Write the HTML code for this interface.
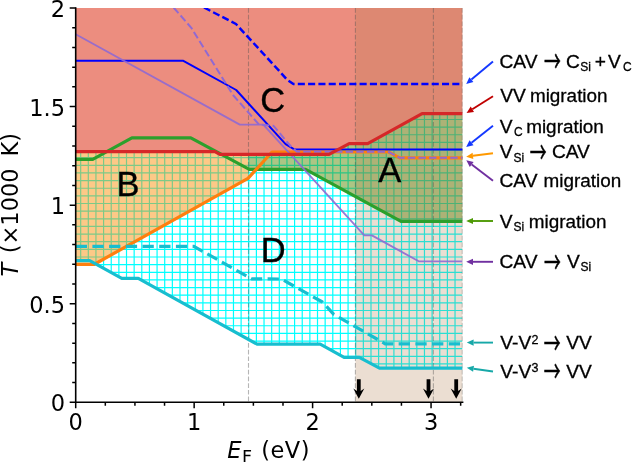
<!DOCTYPE html>
<html><head><meta charset="utf-8"><title>Phase diagram</title>
<style>html,body{margin:0;padding:0;background:#fff}svg{display:block}</style></head>
<body>
<svg width="633" height="462" viewBox="0 0 633 462">
<defs>
<clipPath id="cp"><rect x="75.7" y="8.0" width="386.90000000000003" height="394.3"/></clipPath>
</defs>
<rect width="633" height="462" fill="#fff"/>
<g clip-path="url(#cp)">
<clipPath id="hc"><polygon points="75.7,151.6 214.9,151.6 219.9,154.4 329.0,154.4 349.2,143.6 367.7,143.6 422.1,113.6 462.6,113.6 462.6,368.2 379.5,368.2 359.3,357.3 344.1,357.3 320.2,344.2 257.1,344.2 138.3,278.4 121.8,278.4 89.7,260.7 75.7,260.7"/></clipPath>
<g clip-path="url(#hc)"><path d="M80.67 8.0V402.3M88.31 8.0V402.3M95.95 8.0V402.3M103.59 8.0V402.3M111.23 8.0V402.3M118.87 8.0V402.3M126.51 8.0V402.3M134.15 8.0V402.3M141.79 8.0V402.3M149.43 8.0V402.3M157.07 8.0V402.3M164.71 8.0V402.3M172.35 8.0V402.3M179.99 8.0V402.3M187.63 8.0V402.3M195.27 8.0V402.3M202.91 8.0V402.3M210.55 8.0V402.3M218.19 8.0V402.3M225.83 8.0V402.3M233.47 8.0V402.3M241.11 8.0V402.3M248.75 8.0V402.3M256.39 8.0V402.3M264.03 8.0V402.3M271.67 8.0V402.3M279.31 8.0V402.3M286.95 8.0V402.3M294.59 8.0V402.3M302.23 8.0V402.3M309.87 8.0V402.3M317.51 8.0V402.3M325.15 8.0V402.3M332.79 8.0V402.3M340.43 8.0V402.3M348.07 8.0V402.3M355.71 8.0V402.3M363.35 8.0V402.3M370.99 8.0V402.3M378.63 8.0V402.3M386.27 8.0V402.3M393.91 8.0V402.3M401.55 8.0V402.3M409.19 8.0V402.3M416.83 8.0V402.3M424.47 8.0V402.3M432.11 8.0V402.3M439.75 8.0V402.3M447.39 8.0V402.3M455.03 8.0V402.3M75.7 12.52H462.6M75.7 20.16H462.6M75.7 27.8H462.6M75.7 35.44H462.6M75.7 43.08H462.6M75.7 50.72H462.6M75.7 58.36H462.6M75.7 66.0H462.6M75.7 73.64H462.6M75.7 81.28H462.6M75.7 88.92H462.6M75.7 96.56H462.6M75.7 104.2H462.6M75.7 111.84H462.6M75.7 119.48H462.6M75.7 127.12H462.6M75.7 134.76H462.6M75.7 142.4H462.6M75.7 150.04H462.6M75.7 157.68H462.6M75.7 165.32H462.6M75.7 172.96H462.6M75.7 180.6H462.6M75.7 188.24H462.6M75.7 195.88H462.6M75.7 203.52H462.6M75.7 211.16H462.6M75.7 218.8H462.6M75.7 226.44H462.6M75.7 234.08H462.6M75.7 241.72H462.6M75.7 249.36H462.6M75.7 257.0H462.6M75.7 264.64H462.6M75.7 272.28H462.6M75.7 279.92H462.6M75.7 287.56H462.6M75.7 295.2H462.6M75.7 302.84H462.6M75.7 310.48H462.6M75.7 318.12H462.6M75.7 325.76H462.6M75.7 333.4H462.6M75.7 341.04H462.6M75.7 348.68H462.6M75.7 356.32H462.6M75.7 363.96H462.6M75.7 371.6H462.6M75.7 379.24H462.6M75.7 386.88H462.6M75.7 394.52H462.6M75.7 402.16H462.6" stroke="#00ffff" stroke-width="1.2" fill="none"/></g>
<polygon points="75.7,8.0 462.6,8.0 462.6,113.6 422.1,113.6 367.7,143.6 349.2,143.6 329.0,154.4 219.9,154.4 214.9,151.6 75.7,151.6" fill="#ec8d7f"/>
<polygon points="75.7,151.6 214.9,151.6 219.9,154.4 248.5,154.4 248.5,177.8 248.0,178.4 94.0,264.5 75.7,264.5" fill="#fb9410" fill-opacity="0.5"/>
<polygon points="248.5,154.4 329.0,154.4 349.2,143.6 367.7,143.6 422.1,113.6 462.6,113.6 462.6,221.3 401.0,221.3 305.6,169.3 249.3,169.3 248.5,168.9" fill="#5a8c0a" fill-opacity="0.5"/>
<rect x="355.4" y="8.0" width="107.20000000000005" height="394.3" fill="#af7b4b" fill-opacity="0.25"/>
<line x1="248.5" y1="8.0" x2="248.5" y2="402.3" stroke="#505050" stroke-opacity="0.42" stroke-width="1.1" stroke-dasharray="4.7 2"/>
<line x1="355.4" y1="8.0" x2="355.4" y2="402.3" stroke="#505050" stroke-opacity="0.42" stroke-width="1.1" stroke-dasharray="4.7 2"/>
<line x1="433.4" y1="8.0" x2="433.4" y2="402.3" stroke="#505050" stroke-opacity="0.42" stroke-width="1.1" stroke-dasharray="4.7 2"/>
<line x1="462.3" y1="8.0" x2="462.3" y2="402.3" stroke="#505050" stroke-opacity="0.42" stroke-width="1.1" stroke-dasharray="4.7 2"/>
<polyline points="75.7,159.4 92.7,159.4 131.9,137.9 190.8,137.9 249.3,169.3 305.6,169.3 401.0,221.3 462.6,221.3" fill="none" stroke="#2ca02c" stroke-width="3.2" stroke-linejoin="round"/>
<polyline points="75.7,264.5 94.0,264.5 248.0,178.4 272.0,152.0 388.3,151.8 399.6,157.8 462.6,157.8" fill="none" stroke="#ff7f0e" stroke-width="3.2" stroke-linejoin="round"/>
<polyline points="75.7,260.7 89.7,260.7 121.8,278.4 138.3,278.4 257.1,344.2 320.2,344.2 344.1,357.3 359.3,357.3 379.5,368.2 462.6,368.2" fill="none" stroke="#17becf" stroke-width="3.2" stroke-linejoin="round"/>
<polyline points="75.7,246.4 193.9,246.4 251.8,278.9 281.3,279.0 322.4,302.0 333.8,314.4 385.2,343.8 462.6,343.8" fill="none" stroke="#17becf" stroke-width="3.2" stroke-linejoin="round" stroke-dasharray="11.3 5.4"/>
<polyline points="75.7,60.7 182.9,60.7 236.2,90.0 285.6,144.2 294.3,149.3 462.6,149.4" fill="none" stroke="#0000ff" stroke-width="1.95" stroke-linejoin="round"/>
<polyline points="75.7,34.3 239.8,124.6 263.3,124.6 364.3,235.4 371.9,235.4 418.7,261.3 462.6,261.3" fill="none" stroke="#9069d2" stroke-width="1.85" stroke-linejoin="round" stroke-opacity="0.9"/>
<polyline points="173.6,7.5 191.3,27.8 233.0,95.0 259.0,124.6 273.5,125.8 290.5,146.0 297.0,151.8 388.3,151.8 399.6,157.8 462.6,157.8" fill="none" stroke="#9069d2" stroke-width="2.0" stroke-linejoin="round" stroke-dasharray="7.4 3.2"/>
<polyline points="204.0,7.5 236.0,24.0 280.0,71.8 287.1,79.7 293.4,84.0 462.6,84.0" fill="none" stroke="#0000ff" stroke-width="2.45" stroke-linejoin="round" stroke-dasharray="7.1 3.2"/>
<polyline points="75.7,151.6 214.9,151.6 219.9,154.4 329.0,154.4 349.2,143.6 367.7,143.6 422.1,113.6 462.6,113.6" fill="none" stroke="#d62728" stroke-width="3.2" stroke-linejoin="round"/>
</g>
<text x="272.7" y="112" font-family="Liberation Sans, Arial, sans-serif" font-size="34.5" text-anchor="middle" fill="#000" stroke="#000" stroke-width="0.35">C</text>
<text x="128" y="195.6" font-family="Liberation Sans, Arial, sans-serif" font-size="34.5" text-anchor="middle" fill="#000" stroke="#000" stroke-width="0.35">B</text>
<text x="389.7" y="182.4" font-family="Liberation Sans, Arial, sans-serif" font-size="34.5" text-anchor="middle" fill="#000" stroke="#000" stroke-width="0.35">A</text>
<text x="273.3" y="262" font-family="Liberation Sans, Arial, sans-serif" font-size="34.5" text-anchor="middle" fill="#000" stroke="#000" stroke-width="0.35">D</text>
<path d="M356.90000000000003 379.2H360.7V391L364.3 388.4L358.8 398.8L353.3 388.4L356.90000000000003 391Z" fill="#000"/>
<path d="M426.6 379.2H430.4V391L434.0 388.4L428.5 398.8L423.0 388.4L426.6 391Z" fill="#000"/>
<path d="M454.3 379.2H458.09999999999997V391L461.7 388.4L456.2 398.8L450.7 388.4L454.3 391Z" fill="#000"/>
<path d="M75.7 8.0V402.3H462.6" fill="none" stroke="#000" stroke-width="1.6" stroke-linecap="square"/>
<path d="M75.70 402.3v6M105.31 402.3v3.5M134.93 402.3v3.5M164.54 402.3v3.5M194.15 402.3v6M223.76 402.3v3.5M253.38 402.3v3.5M282.99 402.3v3.5M312.60 402.3v6M342.21 402.3v3.5M371.82 402.3v3.5M401.44 402.3v3.5M431.05 402.3v6M460.66 402.3v3.5M75.7 402.30h-6M75.7 382.59h-3.5M75.7 362.87h-3.5M75.7 343.15h-3.5M75.7 323.44h-3.5M75.7 303.73h-6M75.7 284.01h-3.5M75.7 264.29h-3.5M75.7 244.58h-3.5M75.7 224.87h-3.5M75.7 205.15h-6M75.7 185.43h-3.5M75.7 165.72h-3.5M75.7 146.00h-3.5M75.7 126.29h-3.5M75.7 106.57h-6M75.7 86.86h-3.5M75.7 67.14h-3.5M75.7 47.43h-3.5M75.7 27.71h-3.5M75.7 8.00h-6" stroke="#000" stroke-width="1.5" fill="none"/>
<text x="75.7" y="430" text-anchor="middle" font-family="DejaVu Sans, sans-serif" font-size="22.5" fill="#000">0</text>
<text x="194.2" y="430" text-anchor="middle" font-family="DejaVu Sans, sans-serif" font-size="22.5" fill="#000">1</text>
<text x="312.6" y="430" text-anchor="middle" font-family="DejaVu Sans, sans-serif" font-size="22.5" fill="#000">2</text>
<text x="431.1" y="430" text-anchor="middle" font-family="DejaVu Sans, sans-serif" font-size="22.5" fill="#000">3</text>
<text x="65.1" y="411.3" text-anchor="end" font-family="DejaVu Sans, sans-serif" font-size="22.5" fill="#000">0</text>
<text x="65.1" y="312.7" text-anchor="end" font-family="DejaVu Sans, sans-serif" font-size="22.5" fill="#000">0.5</text>
<text x="65.1" y="214.2" text-anchor="end" font-family="DejaVu Sans, sans-serif" font-size="22.5" fill="#000">1</text>
<text x="65.1" y="115.6" text-anchor="end" font-family="DejaVu Sans, sans-serif" font-size="22.5" fill="#000">1.5</text>
<text x="65.1" y="17.0" text-anchor="end" font-family="DejaVu Sans, sans-serif" font-size="22.5" fill="#000">2</text>
<text x="227.3" y="457.7" font-style="italic" font-family="DejaVu Sans, sans-serif" font-size="22.5" fill="#000">E</text>
<text x="242.0" y="462.6" font-family="DejaVu Sans, sans-serif" font-size="17.5" fill="#000">F</text>
<text x="261.2" y="457.7" letter-spacing="0.5" font-family="DejaVu Sans, sans-serif" font-size="22.5" fill="#000">(eV)</text>
<text transform="translate(18.3,276.5) rotate(-90)" font-family="DejaVu Sans, sans-serif" font-size="22.5" fill="#000"><tspan font-style="italic">T</tspan><tspan dx="2.3"> (×1000</tspan><tspan dx="4.7"> K)</tspan></text>
<text x="499.5" y="67.6" font-size="19.2" font-family="Liberation Sans, Arial, sans-serif" fill="#000" stroke="#000" stroke-width="0.3">CAV</text>
<text transform="translate(544.03,72.15) scale(0.568,1)" font-family="Noto Sans CJK SC, Noto Sans CJK JP, DejaVu Sans, sans-serif" font-size="29.6" fill="#000" stroke="#000" stroke-width="0.5">→</text>
<text x="566.1" y="67.6" font-size="19.2" font-family="Liberation Sans, Arial, sans-serif" fill="#000" stroke="#000" stroke-width="0.3">C</text>
<text x="580.2" y="70.8" font-size="12.0" font-family="Liberation Sans, Arial, sans-serif" fill="#000" stroke="#000" stroke-width="0.3">Si</text>
<text x="594.7" y="67.6" font-size="19.2" font-family="Liberation Sans, Arial, sans-serif" fill="#000" stroke="#000" stroke-width="0.3">+</text>
<text x="607.9" y="67.6" font-size="19.2" font-family="Liberation Sans, Arial, sans-serif" fill="#000" stroke="#000" stroke-width="0.3">V</text>
<text x="623.0" y="70.8" font-size="12.0" font-family="Liberation Sans, Arial, sans-serif" fill="#000" stroke="#000" stroke-width="0.3">C</text>
<text x="500.3" y="102.2" font-size="19.2" font-family="Liberation Sans, Arial, sans-serif" fill="#000" stroke="#000" stroke-width="0.3">VV</text>
<text x="529.9" y="102.2" font-size="18.9" font-family="Liberation Sans, Arial, sans-serif" fill="#000" stroke="#000" stroke-width="0.3">migration</text>
<text x="499.8" y="132.6" font-size="19.2" font-family="Liberation Sans, Arial, sans-serif" fill="#000" stroke="#000" stroke-width="0.3">V</text>
<text x="514.0" y="135.8" font-size="12.0" font-family="Liberation Sans, Arial, sans-serif" fill="#000" stroke="#000" stroke-width="0.3">C</text>
<text x="526.2" y="132.6" font-size="18.9" font-family="Liberation Sans, Arial, sans-serif" fill="#000" stroke="#000" stroke-width="0.3">migration</text>
<text x="499.8" y="158.3" font-size="19.2" font-family="Liberation Sans, Arial, sans-serif" fill="#000" stroke="#000" stroke-width="0.3">V</text>
<text x="513.5" y="161.5" font-size="12.0" font-family="Liberation Sans, Arial, sans-serif" fill="#000" stroke="#000" stroke-width="0.3">Si</text>
<text transform="translate(529.73,162.85) scale(0.568,1)" font-family="Noto Sans CJK SC, Noto Sans CJK JP, DejaVu Sans, sans-serif" font-size="29.6" fill="#000" stroke="#000" stroke-width="0.5">→</text>
<text x="551.9" y="158.3" font-size="19.2" font-family="Liberation Sans, Arial, sans-serif" fill="#000" stroke="#000" stroke-width="0.3">CAV</text>
<text x="499.5" y="187.4" font-size="19.2" font-family="Liberation Sans, Arial, sans-serif" fill="#000" stroke="#000" stroke-width="0.3">CAV</text>
<text x="543.6" y="187.4" font-size="18.9" font-family="Liberation Sans, Arial, sans-serif" fill="#000" stroke="#000" stroke-width="0.3">migration</text>
<text x="499.8" y="227.5" font-size="19.2" font-family="Liberation Sans, Arial, sans-serif" fill="#000" stroke="#000" stroke-width="0.3">V</text>
<text x="513.5" y="230.7" font-size="12.0" font-family="Liberation Sans, Arial, sans-serif" fill="#000" stroke="#000" stroke-width="0.3">Si</text>
<text x="528.8" y="227.5" font-size="18.9" font-family="Liberation Sans, Arial, sans-serif" fill="#000" stroke="#000" stroke-width="0.3">migration</text>
<text x="499.5" y="268.2" font-size="19.2" font-family="Liberation Sans, Arial, sans-serif" fill="#000" stroke="#000" stroke-width="0.3">CAV</text>
<text transform="translate(544.03,272.75) scale(0.568,1)" font-family="Noto Sans CJK SC, Noto Sans CJK JP, DejaVu Sans, sans-serif" font-size="29.6" fill="#000" stroke="#000" stroke-width="0.5">→</text>
<text x="566.9" y="268.2" font-size="19.2" font-family="Liberation Sans, Arial, sans-serif" fill="#000" stroke="#000" stroke-width="0.3">V</text>
<text x="580.5" y="271.4" font-size="12.0" font-family="Liberation Sans, Arial, sans-serif" fill="#000" stroke="#000" stroke-width="0.3">Si</text>
<text x="500.3" y="349.4" font-size="19.2" font-family="Liberation Sans, Arial, sans-serif" fill="#000" stroke="#000" stroke-width="0.3">V-V</text>
<text x="531.6" y="344.0" font-size="12.5" font-family="Liberation Sans, Arial, sans-serif" fill="#000" stroke="#000" stroke-width="0.3">2</text>
<text transform="translate(543.73,353.95) scale(0.568,1)" font-family="Noto Sans CJK SC, Noto Sans CJK JP, DejaVu Sans, sans-serif" font-size="29.6" fill="#000" stroke="#000" stroke-width="0.5">→</text>
<text x="566.2" y="349.4" font-size="19.2" font-family="Liberation Sans, Arial, sans-serif" fill="#000" stroke="#000" stroke-width="0.3">VV</text>
<text x="500.3" y="377.8" font-size="19.2" font-family="Liberation Sans, Arial, sans-serif" fill="#000" stroke="#000" stroke-width="0.3">V-V</text>
<text x="531.6" y="372.4" font-size="12.5" font-family="Liberation Sans, Arial, sans-serif" fill="#000" stroke="#000" stroke-width="0.3">3</text>
<text transform="translate(543.73,382.35) scale(0.568,1)" font-family="Noto Sans CJK SC, Noto Sans CJK JP, DejaVu Sans, sans-serif" font-size="29.6" fill="#000" stroke="#000" stroke-width="0.5">→</text>
<text x="566.2" y="377.8" font-size="19.2" font-family="Liberation Sans, Arial, sans-serif" fill="#000" stroke="#000" stroke-width="0.3">VV</text>
<line x1="493.0" y1="61.6" x2="471.4" y2="79.6" stroke="#1438ff" stroke-width="1.9"/>
<polygon points="466.2,84.0 469.4,77.3 473.4,82.0" fill="#1438ff"/>
<line x1="493.0" y1="96.2" x2="472.3" y2="109.3" stroke="#c00000" stroke-width="1.9"/>
<polygon points="466.6,112.9 470.7,106.6 474.0,111.9" fill="#c00000"/>
<line x1="493.0" y1="125.8" x2="471.5" y2="142.8" stroke="#1438ff" stroke-width="1.9"/>
<polygon points="466.2,147.0 469.6,140.3 473.5,145.2" fill="#1438ff"/>
<line x1="493.0" y1="153.3" x2="472.9" y2="155.8" stroke="#ff9900" stroke-width="1.9"/>
<polygon points="466.2,156.7 472.6,152.8 473.3,158.9" fill="#ff9900"/>
<line x1="493.0" y1="180.8" x2="471.7" y2="164.4" stroke="#7030a0" stroke-width="1.9"/>
<polygon points="466.3,160.3 473.6,162.0 469.8,166.9" fill="#7030a0"/>
<line x1="493.0" y1="221.0" x2="473.0" y2="221.0" stroke="#4e9a06" stroke-width="1.9"/>
<polygon points="466.2,221.0 473.0,217.9 473.0,224.1" fill="#4e9a06"/>
<line x1="493.0" y1="261.8" x2="473.0" y2="261.8" stroke="#7030a0" stroke-width="1.9"/>
<polygon points="466.2,261.8 473.0,258.7 473.0,264.9" fill="#7030a0"/>
<line x1="493.0" y1="342.6" x2="473.6" y2="342.6" stroke="#17a8a8" stroke-width="1.9"/>
<polygon points="466.8,342.6 473.6,339.5 473.6,345.7" fill="#17a8a8"/>
<line x1="493.0" y1="371.5" x2="473.5" y2="368.8" stroke="#17a8a8" stroke-width="1.9"/>
<polygon points="466.8,367.8 474.0,365.7 473.1,371.8" fill="#17a8a8"/>
</svg>
</body></html>
